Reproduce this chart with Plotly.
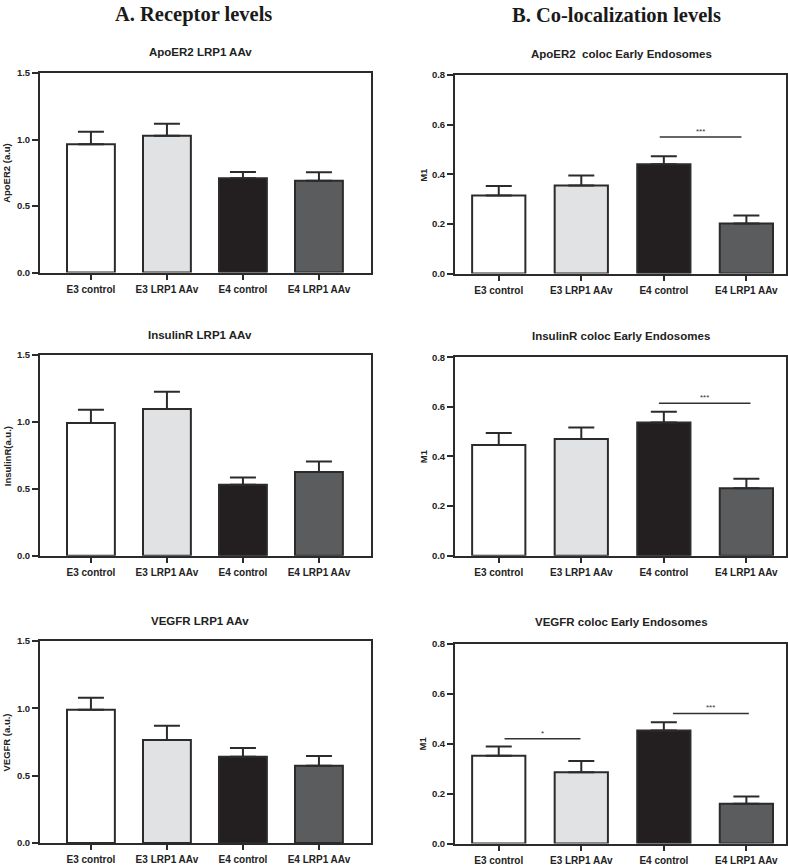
import plotly.graph_objects as go

categories = ["E3 control", "E3 LRP1 AAv", "E4 control", "E4 LRP1 AAv"]
bar_colors = ["#ffffff", "#e1e2e3", "#231f20", "#5b5c5e"]

titles = ["ApoER2 LRP1 AAv", "InsulinR LRP1 AAv", "VEGFR LRP1 AAv",
          "ApoER2  coloc Early Endosomes", "InsulinR coloc Early Endosomes",
          "VEGFR coloc Early Endosomes"]
ytitles = ["ApoER2 (a.u)", "InsulinR(a.u.)", "VEGFR (a.u.)", "M1", "M1", "M1"]

# Receptor levels (means, SEM)
apoer2_levels = [0.965, 1.03, 0.71, 0.69]
apoer2_levels_err = [0.095, 0.09, 0.047, 0.065]
insulinr_levels = [0.99, 1.095, 0.53, 0.625]
insulinr_levels_err = [0.10, 0.13, 0.053, 0.078]
vegfr_levels = [0.99, 0.766, 0.641, 0.573]
vegfr_levels_err = [0.089, 0.105, 0.064, 0.073]

# Co-localization (M1)
apoer2_coloc = [0.315, 0.355, 0.441, 0.202]
apoer2_coloc_err = [0.038, 0.040, 0.032, 0.032]
insulinr_coloc = [0.446, 0.470, 0.537, 0.272]
insulinr_coloc_err = [0.048, 0.047, 0.043, 0.038]
vegfr_coloc = [0.352, 0.286, 0.453, 0.159]
vegfr_coloc_err = [0.037, 0.045, 0.033, 0.029]

# significance brackets per panel: (from category pos, to category pos, level, label)
sig_apoer2 = [(1.95, 2.94, 0.551, "***")]
sig_insulinr = [(1.94, 3.05, 0.614, "***")]
sig_vegfr = [(0.07, 0.99, 0.420, "*"), (2.11, 3.03, 0.521, "***")]

yticks_levels = [0.0, 0.5, 1.0, 1.5]
yticks_coloc = [0.0, 0.2, 0.4, 0.6, 0.8]

panels = [
    (apoer2_levels, apoer2_levels_err, [], yticks_levels),
    (insulinr_levels, insulinr_levels_err, [], yticks_levels),
    (vegfr_levels, vegfr_levels_err, [], yticks_levels),
    (apoer2_coloc, apoer2_coloc_err, sig_apoer2, yticks_coloc),
    (insulinr_coloc, insulinr_coloc_err, sig_insulinr, yticks_coloc),
    (vegfr_coloc, vegfr_coloc_err, sig_vegfr, yticks_coloc),
]

W, H = 788, 867
# plot area boxes in pixels (left, right, top, bottom)
boxes = [
    (40, 371, 68, 270), (40, 371, 353.3, 556.7), (40, 371, 643.3, 847.7),
    (455, 786, 70, 271), (455, 786, 355.7, 556.7), (455, 786, 646, 848.3),
]
xranges = [[-0.67, 3.685]] * 3 + [[-0.53, 3.48]] * 3
barwidths = [0.63] * 3 + [0.645] * 3
title_y = [47, 333, 623, 49, 334, 624]
title_x = [200, 200, 200, 621, 621, 621]
ytitle_pos = [(7, 169), (7, 456), (7, 746), (424, 171), (423, 456), (423, 747)]

AX = "#2b2b2b"
FONT = "Liberation Sans"
fig = go.Figure()
annotations = []
shapes = []
layout = {}
for i, (vals, errs, sigs, yt) in enumerate(panels):
    n = i + 1
    xa = "x" if n == 1 else f"x{n}"
    ya = "y" if n == 1 else f"y{n}"
    fig.add_trace(go.Bar(
        x=list(range(len(categories))), y=vals,
        width=barwidths[i],
        marker=dict(color=bar_colors, line=dict(color=AX, width=2)),
        error_y=dict(type="data", array=errs, arrayminus=[0] * len(errs),
                     symmetric=False, color=AX, thickness=2, width=13),
        xaxis=xa, yaxis=ya, showlegend=False, hoverinfo="skip",
    ))
    l, r, t, b = boxes[i]
    layout["xaxis" if n == 1 else f"xaxis{n}"] = dict(
        domain=[l / W, r / W], anchor=ya, range=xranges[i],
        tickmode="array", tickvals=list(range(len(categories))),
        ticktext=[f"<b>{c}</b>" for c in categories],
        ticks="outside", ticklen=5, tickwidth=2, tickcolor=AX,
        showline=True, linecolor=AX, linewidth=2, mirror=True,
        showgrid=False, zeroline=False, ticklabelstandoff=1,
        tickfont=dict(family=FONT, size=10, color="#222"),
    )
    layout["yaxis" if n == 1 else f"yaxis{n}"] = dict(
        domain=[1 - b / H, 1 - t / H], anchor=xa, range=[yt[0], yt[-1]],
        tickmode="array", tickvals=yt, ticktext=[f"<b>{v:.1f}</b>" for v in yt],
        ticks="outside", ticklen=6, tickwidth=2, tickcolor=AX,
        showline=True, linecolor=AX, linewidth=2, mirror=True,
        showgrid=False, zeroline=False,
        tickfont=dict(family=FONT, size=9.5, color="#222"),
    )
    annotations.append(dict(
        text=f"<b>{titles[i]}</b>", xref="paper", yref="paper",
        x=title_x[i] / W, y=1 - title_y[i] / H, xanchor="center", yanchor="middle",
        showarrow=False, font=dict(family=FONT, size=11.5, color="#222"),
    ))
    tx, ty = ytitle_pos[i]
    annotations.append(dict(
        text=f"<b>{ytitles[i]}</b>", xref="paper", yref="paper",
        x=tx / W, y=1 - ty / H, xanchor="center", yanchor="middle", textangle=-90,
        showarrow=False, font=dict(family=FONT, size=9.5, color="#222"),
    ))
    for (x0, x1, lev, lab) in sigs:
        shapes.append(dict(type="line", xref=xa, yref=ya, x0=x0, x1=x1, y0=lev, y1=lev,
                           line=dict(color="#333", width=1.5)))
        annotations.append(dict(
            text=lab, xref=xa, yref=ya, x=(x0 + x1) / 2, y=lev,
            xanchor="center", yanchor="bottom", yshift=-1, showarrow=False,
            font=dict(family=FONT, size=8, color="#333"),
        ))

annotations.append(dict(text="<b>A. Receptor levels</b>", xref="paper", yref="paper",
                        x=193 / W, y=1 - 9 / H, xanchor="center", yanchor="middle",
                        showarrow=False,
                        font=dict(family="Liberation Serif", size=20.5, color="#1a1a1a")))
annotations.append(dict(text="<b>B. Co-localization levels</b>", xref="paper", yref="paper",
                        x=616 / W, y=1 - 9 / H, xanchor="center", yanchor="middle",
                        showarrow=False,
                        font=dict(family="Liberation Serif", size=20.5, color="#1a1a1a")))

fig.update_layout(
    width=W, height=H, margin=dict(l=0, r=0, t=0, b=0),
    paper_bgcolor="white", plot_bgcolor="white",
    annotations=annotations, shapes=shapes, **layout,
)
fig.write_html("out.html", config={"displayModeBar": False},
               post_script="document.body.style.margin='0px';document.body.style.overflow='hidden';")
